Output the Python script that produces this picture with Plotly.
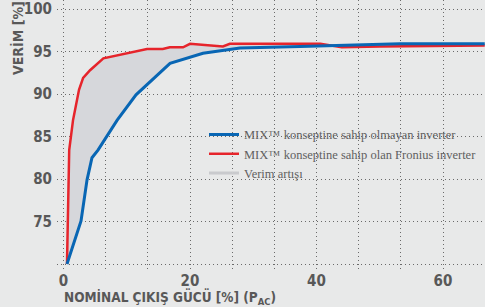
import plotly.graph_objects as go

# ---- data ----
red_x = [0.55, 0.75, 0.9, 1.5, 2.45, 3.1, 4.2, 6.3, 13.2, 15.7, 16.8, 18.9, 20.0, 25.2, 26.3, 27.9, 40.6, 44.0, 50.0, 66.6]
red_y = [70.0, 80.0, 83.4, 86.9, 90.5, 91.9, 92.8, 94.2, 95.3, 95.3, 95.5, 95.5, 95.9, 95.6, 95.9, 95.9, 95.9, 95.5, 95.6, 95.7]

blue_x = [0.55, 2.77, 3.72, 4.5, 5.45, 8.46, 11.46, 16.84, 22.05, 27.9, 37.4, 53.2, 66.6]
blue_y = [70.0, 75.06, 79.9, 82.5, 83.4, 86.9, 89.9, 93.6, 94.8, 95.4, 95.6, 95.9, 95.9]

x_grid = [0, 20/3, 40/3, 20, 80/3, 100/3, 40, 140/3, 160/3, 60]
x_ticktext = ["0", " ", " ", "20", " ", " ", "40", " ", " ", "60"]
y_ticks = [70, 75, 80, 85, 90, 95, 100]
y_ticktext = [" ", "75", "80", "85", "90", "95", "100"]

name_blue = "MIX™ konseptine sahip olmayan inverter"
name_red = "MIX™ konseptine sahip olan Fronius inverter"
name_fill = "Verim artışı"

BLUE = "#0866b4"
RED = "#e6242b"
FILL = "#d6d7db"
BG = "#e8e9e9"
TXT = "#585858"
SANS = "Liberation Sans Narrow, DejaVu Sans Condensed, Roboto"
SERIF = "Liberation Serif, DejaVu Serif, serif"

fig = go.Figure()

# shaded gain area between the two curves
fig.add_trace(go.Scatter(
    x=red_x + blue_x[::-1], y=red_y + blue_y[::-1],
    fill="toself", fillcolor=FILL, mode="lines", line=dict(width=0),
    showlegend=False, hoverinfo="skip"))

fig.add_trace(go.Scatter(x=red_x, y=red_y, mode="lines", name=name_red,
                         line=dict(color=RED, width=2.5), legendrank=2))
fig.add_trace(go.Scatter(x=blue_x, y=blue_y, mode="lines", name=name_blue,
                         line=dict(color=BLUE, width=3), legendrank=1))
fig.add_trace(go.Scatter(x=[None], y=[None], mode="lines", name=name_fill,
                         line=dict(color="#c9cacd", width=3), legendrank=3))

fig.update_layout(
    width=485, height=307,
    margin=dict(l=57, r=0, t=0, b=37),
    paper_bgcolor=BG, plot_bgcolor=BG,
    showlegend=True,
    legend=dict(x=(204 - 57) / 428, y=0.43, xanchor="left", yanchor="middle",
                bgcolor="rgba(0,0,0,0)", font=dict(family=SERIF, size=12.5, color="#606060"),
                itemwidth=30, traceorder="normal"),
    xaxis=dict(range=[-1.03, 66.64], tickmode="array", tickvals=x_grid, ticktext=x_ticktext,
               showgrid=True, gridcolor="#6a6a6a", griddash="1px,3px", gridwidth=1,
               zeroline=False, showline=False, ticks="",
               tickfont=dict(family=SANS, size=15, color=TXT, weight="bold")),
    yaxis=dict(range=[69.3, 101.06], tickmode="array", tickvals=y_ticks, ticktext=y_ticktext,
               showgrid=True, gridcolor="#6a6a6a", griddash="1px,3px", gridwidth=1,
               zeroline=False, showline=False, ticks="", ticklabelstandoff=4,
               tickfont=dict(family=SANS, size=15, color=TXT, weight="bold")),
    annotations=[
        dict(text="VERİM [%]", xref="paper", yref="paper", x=(18 - 57) / 428, y=(270 - 38) / 270,
             xanchor="center", yanchor="middle", textangle=-90, showarrow=False,
             font=dict(family=SANS, size=14, color=TXT, weight="bold")),
        dict(text="NOMİNAL ÇIKIŞ GÜCÜ [%] (P<sub>AC</sub>)", xref="paper", yref="paper",
             x=(62 - 57) / 428, y=(270 - 297) / 270, xanchor="left", yanchor="middle",
             showarrow=False, font=dict(family=SANS, size=13.5, color=TXT, weight="bold")),
    ],
)

fig.write_html("out.html",
               config={"displayModeBar": False},
               post_script="document.body.style.margin='0';document.body.style.padding='0';"
                           "document.body.style.overflow='hidden';")
